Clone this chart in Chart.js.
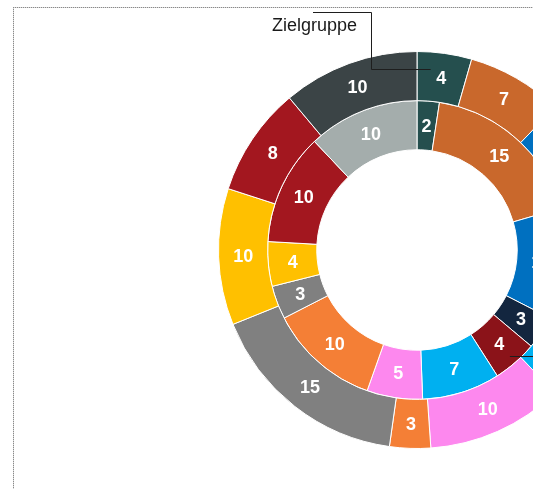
<!DOCTYPE html>
<html>
<head>
<meta charset="utf-8">
<script src="https://cdn.jsdelivr.net/npm/chart.js@4"></script>
<style>
  html, body { margin: 0; padding: 0; width: 533px; height: 489px; overflow: hidden; background: #fff; }
  .edge { position: absolute; }
  #edgeTop { left: 13px; top: 7px; width: 700px; height: 1px;
             background: repeating-linear-gradient(to right, #8a8a8a 0 1px, #d8d8d8 1px 2px); }
  #edgeLeft { left: 13px; top: 7px; width: 1px; height: 700px;
              background: repeating-linear-gradient(to bottom, #8a8a8a 0 1px, #d8d8d8 1px 2px); }
  #chart { position: absolute; left: 0; top: 0; }
</style>
</head>
<body>
<div class="edge" id="edgeTop"></div>
<div class="edge" id="edgeLeft"></div>
<canvas id="chart" width="834" height="500"></canvas>
<script>
// ---- données ----
const categories = ['Zielgruppe', 'B', 'C', 'D', 'E', 'F', 'G', 'H', 'I', 'J', 'K', 'L'];
const outerValues = [4, 7, 12, 4, 4, 3, 10, 3, 15, 10, 8, 10];
const innerValues = [2, 15, 10, 3, 4, 7, 5, 10, 3, 4, 10, 10];

const outerColors = ['#254f4e', '#c9682c', '#0070c0', '#13263f', '#8b1319', '#00b0f0',
                     '#fd88ee', '#f47f36', '#808080', '#ffc000', '#a3171f', '#3b4446'];
const innerColors = ['#254f4e', '#c9682c', '#0070c0', '#13263f', '#8b1319', '#00b0f0',
                     '#fd88ee', '#f47f36', '#808080', '#ffc000', '#a3171f', '#a4adac'];

// ---- étiquettes blanches + lignes de rappel ----
const labelPlugin = {
  id: 'segmentLabels',
  afterDatasetsDraw(chart) {
    const ctx = chart.ctx;
    ctx.save();
    ctx.font = 'bold 18px "Liberation Sans", Arial, sans-serif';
    ctx.fillStyle = '#fff';
    ctx.textAlign = 'center';
    ctx.textBaseline = 'middle';
    chart.data.datasets.forEach((ds, i) => {
      chart.getDatasetMeta(i).data.forEach((arc, j) => {
        const p = arc.tooltipPosition();
        ctx.fillText(ds.data[j], p.x, p.y + 1);
      });
    });

    // rappel "Zielgruppe" vers le segment extérieur 0
    const a0 = chart.getDatasetMeta(0).data[0];
    const ang = a0.startAngle + (a0.endAngle - a0.startAngle) * 0.27;
    const r = a0.innerRadius + (a0.outerRadius - a0.innerRadius) * 0.65;
    const ex = a0.x + Math.cos(ang) * r, ey = Math.round(a0.y + Math.sin(ang) * r) + 0.5;
    ctx.strokeStyle = '#1e1e1e';
    ctx.lineWidth = 1;
    ctx.beginPath();
    ctx.moveTo(ex, ey);
    ctx.lineTo(371.5, ey);
    ctx.lineTo(371.5, 12.5);
    ctx.lineTo(313, 12.5);
    ctx.stroke();
    ctx.fillStyle = '#1a1a1a';
    ctx.font = '18px "Liberation Sans", Arial, sans-serif';
    ctx.textAlign = 'left';
    ctx.fillText(categories[0], 272, 26);

    // rappel vers le segment intérieur 4 (hors champ à droite)
    const a4 = chart.getDatasetMeta(1).data[4];
    const ang4 = (a4.startAngle + a4.endAngle) / 2;
    const r4 = a4.innerRadius + (a4.outerRadius - a4.innerRadius) * 0.83;
    const x4 = a4.x + Math.cos(ang4) * r4, y4 = Math.round(a4.y + Math.sin(ang4) * r4) + 0.5;
    ctx.beginPath();
    ctx.moveTo(x4, y4);
    ctx.lineTo(600, y4);
    ctx.stroke();
    ctx.restore();
  }
};

new Chart(document.getElementById('chart').getContext('2d'), {
  type: 'doughnut',
  data: {
    labels: categories,
    datasets: [
      { data: outerValues, backgroundColor: outerColors, borderColor: '#fff', borderWidth: 1 },
      { data: innerValues, backgroundColor: innerColors, borderColor: '#fff', borderWidth: 1 }
    ]
  },
  options: {
    responsive: false,
    animation: false,
    cutout: '50.5%',
    layout: { padding: { top: 51, bottom: 51 } },
    plugins: { legend: { display: false }, tooltip: { enabled: false } }
  },
  plugins: [labelPlugin]
});
</script>
</body>
</html>
